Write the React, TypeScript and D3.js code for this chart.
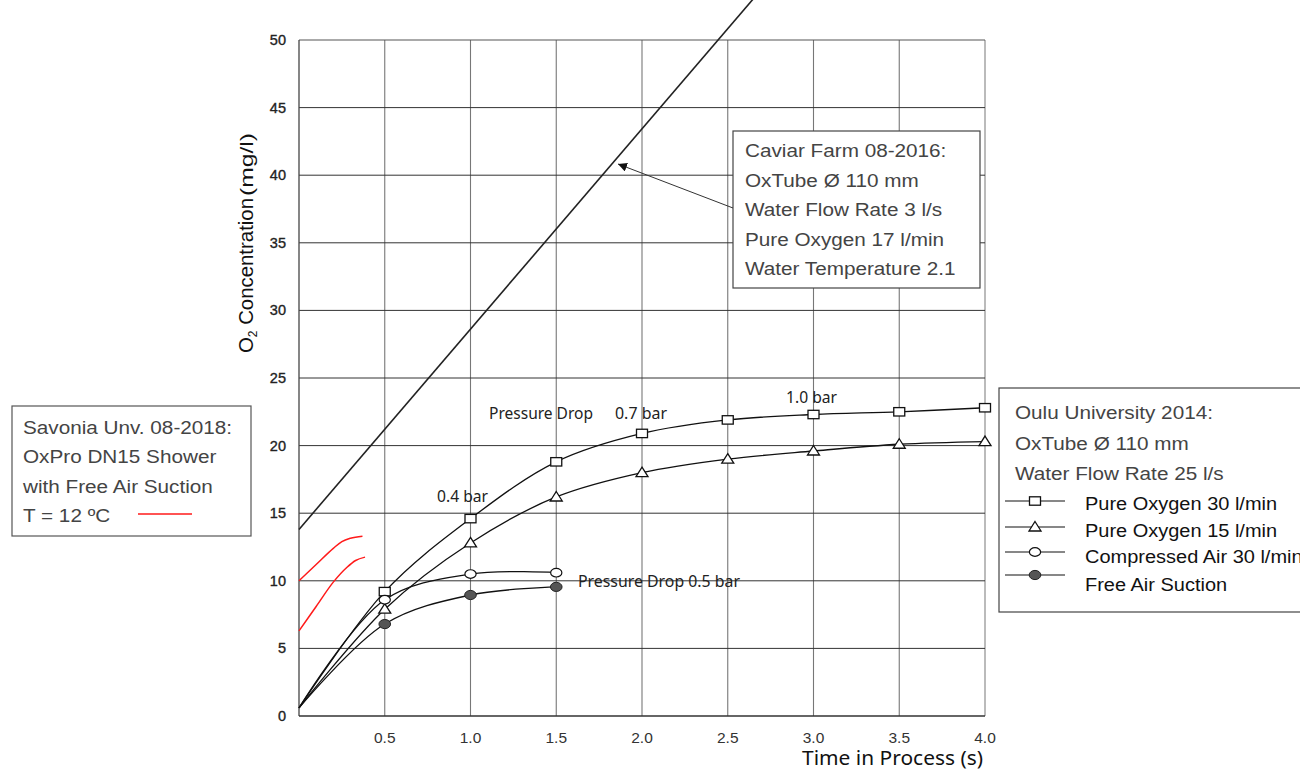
import React from "react";
import * as d3 from "d3";

// ---- data ----
const timeTicks = [0.5, 1.0, 1.5, 2.0, 2.5, 3.0, 3.5, 4.0];
const concTicks = [0, 5, 10, 15, 20, 25, 30, 35, 40, 45, 50];

const timeLong = [0, 0.5, 1.0, 1.5, 2.0, 2.5, 3.0, 3.5, 4.0];
const pureO2_30 = [0.6, 9.2, 14.6, 18.8, 20.9, 21.9, 22.3, 22.5, 22.8];
const pureO2_15 = [0.6, 7.9, 12.8, 16.2, 18.0, 19.0, 19.6, 20.1, 20.3];

const timeShort = [0, 0.5, 1.0, 1.5];
const compressedAir30 = [0.6, 8.6, 10.5, 10.6];
const freeAirSuction = [0.6, 6.8, 8.95, 9.55];

const caviarTime = [0, 2.7];
const caviarConc = [13.8, 53.8];

const savoniaTimeA = [0, 0.1, 0.2, 0.25, 0.3, 0.37];
const savoniaConcA = [10, 11.2, 12.4, 12.9, 13.15, 13.3];
const savoniaTimeB = [0, 0.1, 0.2, 0.28, 0.33, 0.385];
const savoniaConcB = [6.3, 8.1, 9.9, 11.0, 11.5, 11.75];

const caviarLines = [
  "Caviar Farm 08-2016:",
  "OxTube Ø 110 mm",
  "Water Flow Rate 3 l/s",
  "Pure Oxygen  17 l/min",
  "Water Temperature 2.1",
];
const ouluLines = ["Oulu University 2014:", "OxTube Ø 110 mm", "Water Flow Rate 25 l/s"];
const ouluSeries = [
  "Pure Oxygen 30 l/min",
  "Pure Oxygen 15 l/min",
  "Compressed Air 30 l/min",
  "Free Air Suction",
];
const savoniaLines = ["Savonia Unv. 08-2018:", "OxPro DN15 Shower", "with Free Air Suction", "T = 12 ºC"];

const ARIAL = "'Liberation Sans', Arial, sans-serif";
const CAL = "'Noto Sans', 'Open Sans', sans-serif";

function zip(xs: number[], ys: number[]): [number, number][] {
  return xs.map((x, i) => [x, ys[i]]);
}

type MarkerKind = "square" | "triangle" | "circle" | "dot";

function Marker({ kind, cx, cy }: { kind: MarkerKind; cx: number; cy: number }) {
  if (kind === "square")
    return <rect x={cx - 5.5} y={cy - 4.2} width={11} height={8.4} fill="#fff" stroke="#111" strokeWidth={1.3} />;
  if (kind === "triangle")
    return (
      <path
        d={`M${cx},${cy - 5.5}L${cx + 6},${cy + 4}L${cx - 6},${cy + 4}Z`}
        fill="#fff"
        stroke="#111"
        strokeWidth={1.3}
      />
    );
  if (kind === "circle") return <ellipse cx={cx} cy={cy} rx={5.6} ry={4.3} fill="#fff" stroke="#111" strokeWidth={1.2} />;
  return <ellipse cx={cx} cy={cy} rx={5.8} ry={4.6} fill="#555" stroke="#222" strokeWidth={1} />;
}

export default function App() {
  const W = 1300;
  const H = 771;
  const x = d3.scaleLinear().domain([0, 4]).range([299, 985]);
  const y = d3.scaleLinear().domain([0, 50]).range([716, 40]);

  const smooth = d3
    .line<[number, number]>()
    .x((d) => x(d[0]))
    .y((d) => y(d[1]))
    .curve(d3.curveCatmullRom.alpha(0.5));
  const straight = d3
    .line<[number, number]>()
    .x((d) => x(d[0]))
    .y((d) => y(d[1]));
  const red = d3
    .line<[number, number]>()
    .x((d) => x(d[0]))
    .y((d) => y(d[1]))
    .curve(d3.curveMonotoneX);

  const series: { t: number[]; v: number[]; kind: MarkerKind }[] = [
    { t: timeLong, v: pureO2_30, kind: "square" },
    { t: timeLong, v: pureO2_15, kind: "triangle" },
    { t: timeShort, v: compressedAir30, kind: "circle" },
    { t: timeShort, v: freeAirSuction, kind: "dot" },
  ];

  const legendKinds: MarkerKind[] = ["square", "triangle", "circle", "dot"];
  const legendY = [501, 527, 552, 575];
  const legendTextY = [510, 537, 563, 591];

  return (
    <svg width={W} height={H} style={{ position: "absolute", left: 0, top: 0, background: "#fff" }}>
      <defs>
        <marker id="arr" viewBox="0 0 10 10" refX="10" refY="5" markerWidth="9" markerHeight="9" orient="auto-start-reverse" markerUnits="userSpaceOnUse">
          <path d="M0,0L10,5L0,10Z" fill="#111" />
        </marker>
      </defs>

      {/* vertical grid */}
      {timeTicks.map((t) => (
        <line key={"vg" + t} x1={x(t)} x2={x(t)} y1={y(50)} y2={y(0)} stroke={t === 4 ? "#aaa" : "#777"} strokeWidth={t === 4 ? 1.6 : 1.1} />
      ))}
      {/* horizontal grid */}
      {concTicks.filter((c) => c > 0).map((c) => (
        <line key={"hg" + c} x1={x(0)} x2={x(4)} y1={y(c)} y2={y(c)} stroke={c === 50 ? "#555" : "#333"} strokeWidth={1} />
      ))}
      {/* axes */}
      <line x1={x(0)} x2={x(0)} y1={y(50)} y2={y(0)} stroke="#444" strokeWidth={1.3} />
      <line x1={x(0)} x2={x(4)} y1={y(0)} y2={y(0)} stroke="#333" strokeWidth={1.3} />

      {/* y tick labels */}
      {concTicks.map((c) => (
        <text key={"yl" + c} x={286} y={y(c) + 5} textAnchor="end" fontFamily={ARIAL} fontSize={14.5} fill="#222" stroke="#222" strokeWidth={0.35}>
          {c}
        </text>
      ))}
      {/* x tick labels */}
      {timeTicks.map((t) => (
        <text key={"xl" + t} x={x(t)} y={743} textAnchor="middle" fontFamily={ARIAL} fontSize={15.5} fill="#333">
          {t.toFixed(1)}
        </text>
      ))}

      {/* axis titles */}
      <text transform="translate(253,353) rotate(-90)" fontFamily={ARIAL} fontSize={20.5} fill="#111" textLength={155} lengthAdjust="spacingAndGlyphs">
        <tspan>O</tspan>
        <tspan fontSize={12} dy={4}>2</tspan>
        <tspan dy={-4}> Concentration</tspan>
      </text>
      <text transform="translate(253,196) rotate(-90)" fontFamily={ARIAL} fontSize={18} fill="#111" textLength={63} lengthAdjust="spacingAndGlyphs">
        (mg/l)
      </text>
      <text x={802} y={765} fontFamily={CAL} fontSize={19} fill="#111" textLength={181} lengthAdjust="spacingAndGlyphs">
        Time in Process (s)
      </text>

      {/* caviar line */}
      <path d={straight(zip(caviarTime, caviarConc)) || ""} fill="none" stroke="#222" strokeWidth={1.6} />

      {/* savonia red curves */}
      <path d={red(zip(savoniaTimeA, savoniaConcA)) || ""} fill="none" stroke="#ff1a1a" strokeWidth={1.5} />
      <path d={red(zip(savoniaTimeB, savoniaConcB)) || ""} fill="none" stroke="#ff1a1a" strokeWidth={1.5} />

      {/* oulu series */}
      {series.map((s, i) => (
        <path key={"s" + i} d={smooth(zip(s.t, s.v)) || ""} fill="none" stroke="#111" strokeWidth={1.3} />
      ))}
      {series.map((s, i) =>
        s.t.slice(1).map((t, j) => <Marker key={"m" + i + "-" + j} kind={s.kind} cx={x(t)} cy={y(s.v[j + 1])} />)
      )}

      {/* annotations */}
      <text x={489} y={419} fontFamily={CAL} fontSize={16} fill="#222" textLength={104} lengthAdjust="spacingAndGlyphs">Pressure Drop</text>
      <text x={615} y={419} fontFamily={CAL} fontSize={16} fill="#222" textLength={52} lengthAdjust="spacingAndGlyphs">0.7 bar</text>
      <text x={786} y={403} fontFamily={CAL} fontSize={16} fill="#222" textLength={51} lengthAdjust="spacingAndGlyphs">1.0 bar</text>
      <text x={437} y={502} fontFamily={CAL} fontSize={16} fill="#222" textLength={51} lengthAdjust="spacingAndGlyphs">0.4 bar</text>
      <text x={578} y={587} fontFamily={CAL} fontSize={16} fill="#222" textLength={162} lengthAdjust="spacingAndGlyphs">Pressure Drop 0.5 bar</text>

      {/* caviar box */}
      <rect x={733} y={131} width={247} height={157} fill="#fff" stroke="#444" strokeWidth={1.2} />
      {caviarLines.map((l, i) => (
        <text key={"cv" + i} transform={`translate(745,${157 + i * 29.5}) scale(1.12,1)`} fontFamily={ARIAL} fontSize={18.5} fill="#444">
          {l}
        </text>
      ))}
      <line x1={733} y1={208} x2={618} y2={164} stroke="#333" strokeWidth={1} markerEnd="url(#arr)" />

      {/* oulu box */}
      <rect x={999} y={388} width={320} height={224} fill="#fff" stroke="#444" strokeWidth={1.2} />
      {ouluLines.map((l, i) => (
        <text key={"ou" + i} transform={`translate(1015,${419 + i * 30.5}) scale(1.12,1)`} fontFamily={ARIAL} fontSize={18.5} fill="#444">
          {l}
        </text>
      ))}
      {ouluSeries.map((l, i) => (
        <g key={"lg" + i}>
          <line x1={1005} x2={1065} y1={legendY[i]} y2={legendY[i]} stroke="#111" strokeWidth={1.1} />
          <Marker kind={legendKinds[i]} cx={1035} cy={legendY[i]} />
          <text transform={`translate(1085,${legendTextY[i]}) scale(1.08,1)`} fontFamily={ARIAL} fontSize={18.5} fill="#111">
            {l}
          </text>
        </g>
      ))}

      {/* savonia box */}
      <rect x={12} y={406} width={239} height={130} fill="#fff" stroke="#555" strokeWidth={1.2} />
      {savoniaLines.map((l, i) => (
        <text key={"sv" + i} transform={`translate(23,${434 + i * 29.3}) scale(1.12,1)`} fontFamily={ARIAL} fontSize={18.5} fill="#444">
          {l}
        </text>
      ))}
      <line x1={138} x2={192} y1={514} y2={514} stroke="#ff1a1a" strokeWidth={1.5} />
    </svg>
  );
}
